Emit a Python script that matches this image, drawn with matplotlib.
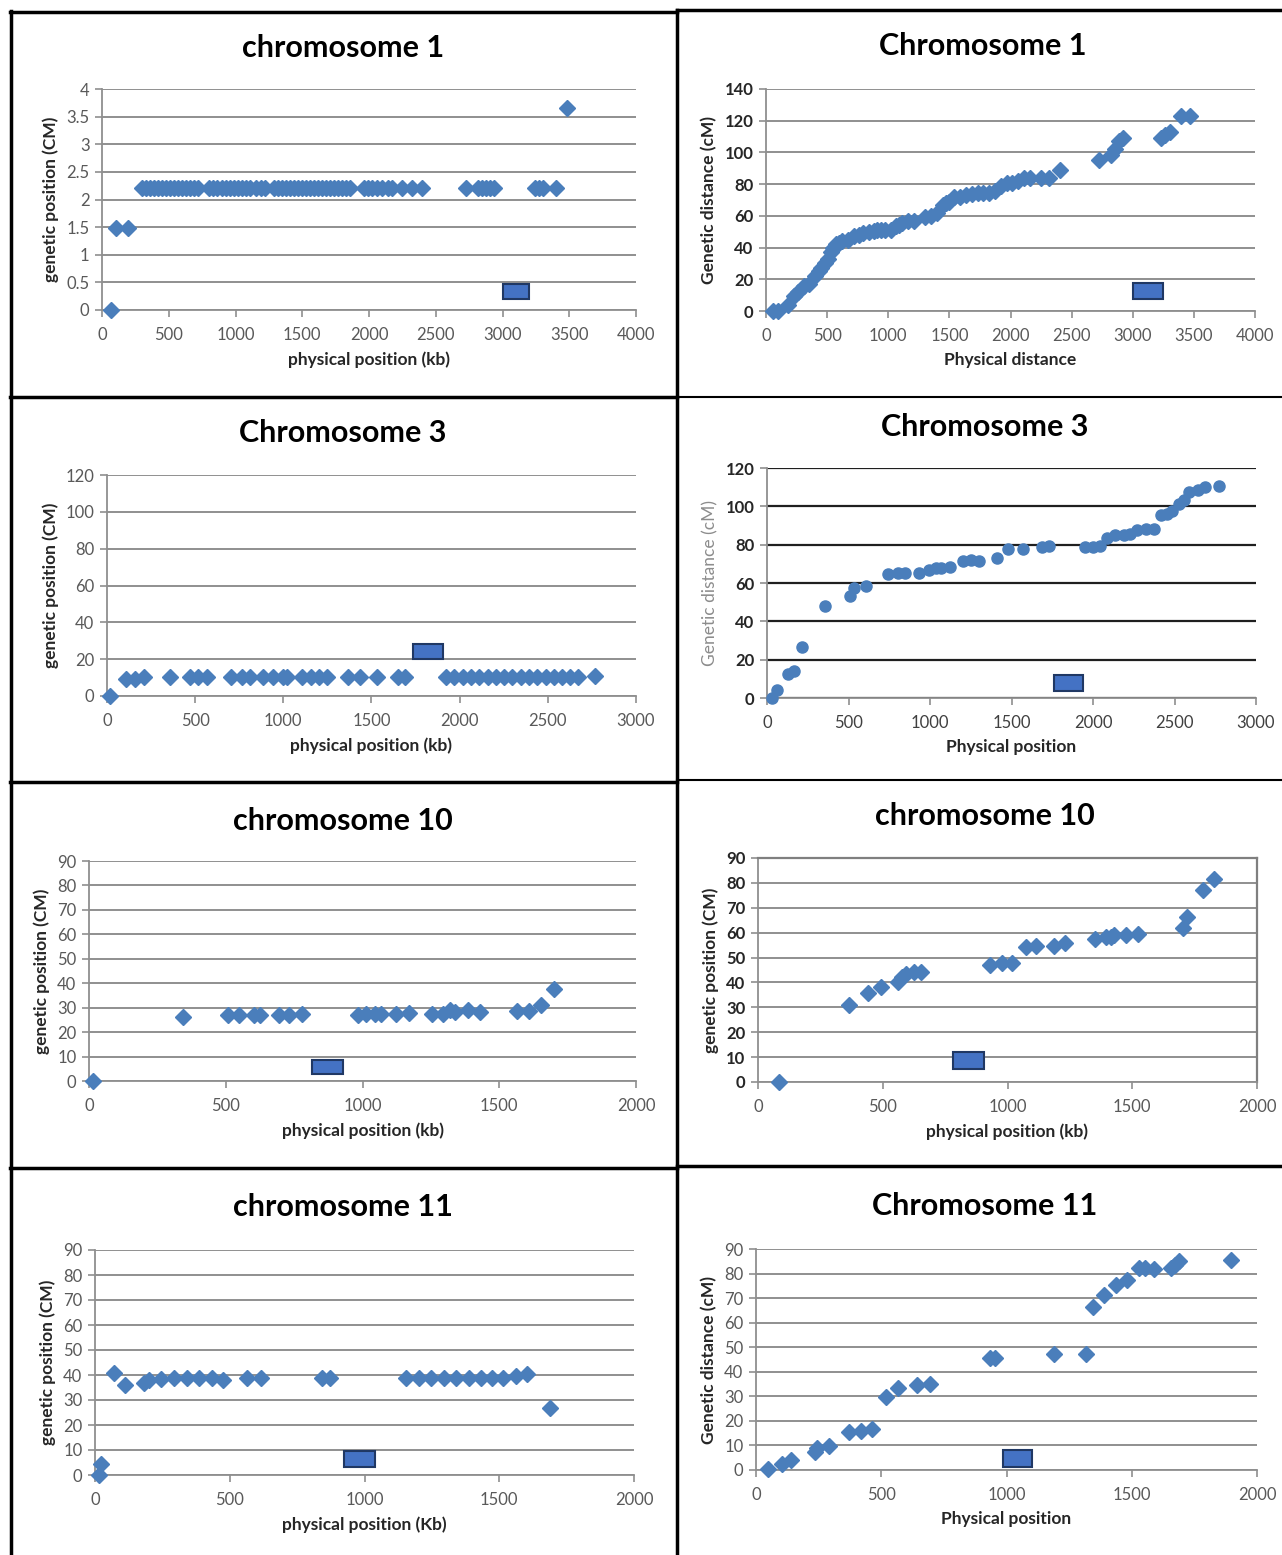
import matplotlib
matplotlib.use("Agg")
import matplotlib.pyplot as plt
from matplotlib.patches import Rectangle
from matplotlib.lines import Line2D
from matplotlib.ticker import FuncFormatter

plt.rcParams["font.family"] = ["Lato", "DejaVu Sans"]

W, H = 1282, 1555
BLUE = "#4A7EBB"

# ---- chromosome 1, left panel (genetic position vs physical position) ----
chr1a_x = [65, 107, 195,
           300, 330, 360, 390, 420, 450, 480, 510, 540, 570, 600, 630, 660, 690, 720,
           800, 830, 860, 900, 930, 960, 990, 1020, 1050, 1080, 1110, 1150, 1190, 1220,
           1290, 1320, 1350, 1380, 1410, 1440, 1470, 1500, 1530, 1560, 1590, 1620, 1650,
           1680, 1710, 1740, 1770, 1800, 1830, 1860,
           1960, 1990, 2020, 2060, 2100, 2140, 2170, 2250, 2320, 2400,
           2725, 2820, 2850, 2880, 2910, 2940, 3245, 3270, 3300, 3400, 3480]
chr1a_y = [0, 1.48, 1.48,
           2.2, 2.2, 2.2, 2.2, 2.2, 2.2, 2.2, 2.2, 2.2, 2.2, 2.2, 2.2, 2.2, 2.2, 2.2,
           2.2, 2.2, 2.2, 2.2, 2.2, 2.2, 2.2, 2.2, 2.2, 2.2, 2.2, 2.2, 2.2, 2.2,
           2.2, 2.2, 2.2, 2.2, 2.2, 2.2, 2.2, 2.2, 2.2, 2.2, 2.2, 2.2, 2.2,
           2.2, 2.2, 2.2, 2.2, 2.2, 2.2, 2.2,
           2.2, 2.2, 2.2, 2.2, 2.2, 2.2, 2.2, 2.2, 2.2, 2.2,
           2.2, 2.2, 2.2, 2.2, 2.2, 2.2, 2.2, 2.2, 2.2, 2.2, 3.65]

# ---- chromosome 1, right panel ----
chr1b_x = [54, 101, 180, 228, 260, 307, 354, 402, 430, 449, 481, 505, 528, 552, 576, 600,
           623, 671, 718, 760, 797, 845, 880, 908, 940, 971, 1019, 1066, 1090, 1114, 1161,
           1209, 1304, 1351, 1399, 1446, 1470, 1494, 1541, 1589, 1636, 1684, 1731, 1778,
           1826, 1873, 1921, 1968, 2016, 2063, 2111, 2158, 2253, 2316, 2405,
           2728, 2823, 2854, 2886, 2918, 3234, 3266, 3307, 3392, 3472]
chr1b_y = [0, 0, 4, 9.4, 12, 16, 17, 22, 25, 27, 30, 33, 37, 40, 42, 43,
           44, 45, 47, 48, 49, 50, 50.5, 51, 51, 51, 51, 53.5, 54.5, 55.6, 56.7,
           56.7, 59, 60, 62, 67, 68, 69, 72, 72, 73, 73.5, 74.5, 74.5,
           74.5, 75.5, 78.7, 80.9, 81, 82, 84, 84, 84, 84, 89,
           95, 98.5, 102, 107, 109, 109, 111, 112.6, 122.7, 122.7]

# ---- chromosome 3, left panel ----
chr3a_x = [17, 110, 160, 209, 356, 472, 516, 566, 706, 767, 811, 883, 944, 1000, 1018,
           1106, 1156, 1205, 1250, 1366, 1436, 1534, 1648, 1689,
           1923, 1970, 2017, 2064, 2111, 2158, 2205, 2252, 2299, 2346, 2393, 2440, 2487,
           2534, 2581, 2628, 2673, 2766]
chr3a_y = [0, 9.1, 9.1, 10.3, 10.3, 10.3, 10.3, 10.3, 10.3, 10.3, 10.3, 10.3, 10.3, 10.3, 10.3,
           10.3, 10.3, 10.3, 10.3, 10.3, 10.3, 10.3, 10.3, 10.3,
           10.3, 10.3, 10.3, 10.3, 10.3, 10.3, 10.3, 10.3, 10.3, 10.3, 10.3, 10.3, 10.3,
           10.3, 10.3, 10.3, 10.3, 10.7]

# ---- chromosome 3, right panel ----
chr3b_x = [28, 62, 128, 164, 214, 356, 508, 536, 608, 741, 805, 845, 930, 995, 1035, 1068,
           1120, 1203, 1253, 1298, 1410, 1481, 1571, 1690, 1733, 1951, 1999, 2046, 2086,
           2136, 2193, 2229, 2271, 2324, 2374, 2419, 2454, 2485, 2526, 2556, 2592, 2644,
           2687, 2775]
chr3b_y = [0, 4.3, 12.5, 13.9, 26.4, 48, 53.2, 57.6, 58.6, 64.9, 65.2, 65.2, 65.2, 66.8, 68, 68,
           68.3, 71.4, 72.1, 71.6, 73.2, 77.5, 77.5, 78.9, 79.2, 78.9, 78.9, 79.4, 83.6,
           85, 85.3, 85.8, 87.6, 88.4, 88, 95.4, 96.2, 97.5, 101.4, 103.2, 107.5, 108.7,
           110.1, 110.5]

# ---- chromosome 10, left panel ----
chr10a_x = [16, 344, 508, 547, 603, 627, 695, 733, 780, 983, 1012, 1047, 1067, 1122, 1170,
            1253, 1296, 1321, 1337, 1385, 1430, 1565, 1610, 1654, 1700]
chr10a_y = [0, 26.2, 26.9, 26.9, 26.9, 26.9, 26.9, 26.9, 27.3, 26.9, 27.3, 27.3, 27.3, 27.3, 27.9,
            27.6, 27.6, 29.2, 28.3, 29, 28.3, 28.5, 28.5, 31, 37.8]

# ---- chromosome 10, right panel ----
chr10b_x = [85, 364, 440, 491, 561, 577, 595, 626, 653, 930, 977, 1019, 1076, 1116, 1186,
            1229, 1349, 1394, 1414, 1425, 1476, 1522, 1705, 1721, 1783, 1829]
chr10b_y = [0, 30.8, 35.6, 38.3, 40.3, 42, 43.3, 44.2, 44.2, 47, 47.7, 48, 54.4, 54.8, 54.8,
            55.7, 57.4, 58.2, 58.4, 59.1, 59.1, 59.4, 62, 66.1, 77.2, 81.5]

# ---- chromosome 11, left panel ----
chr11a_x = [16, 21, 69, 113, 180, 201, 245, 293, 341, 386, 434, 476, 563, 616, 841, 872,
            1154, 1203, 1247, 1295, 1340, 1387, 1432, 1472, 1513, 1561, 1604, 1689]
chr11a_y = [0, 4.3, 41, 36, 36.7, 38, 38.3, 38.7, 38.7, 38.7, 38.7, 38, 38.7, 38.7, 38.7, 38.7,
            38.7, 38.7, 38.7, 38.7, 38.7, 38.7, 39, 39, 39, 39.7, 40.3, 26.7]

# ---- chromosome 11, right panel ----
chr11b_x = [46, 103, 139, 234, 242, 291, 370, 419, 463, 520, 566, 643, 694, 933, 956, 1190,
            1318, 1345, 1391, 1437, 1480, 1530, 1553, 1588, 1658, 1672, 1688, 1895]
chr11b_y = [0.5, 2.5, 4, 7.2, 8.8, 9.9, 15.4, 16, 16.7, 29.6, 33.3, 34.7, 35, 45.8, 45.8, 47.2,
            47.2, 66.2, 71.4, 75.5, 77.5, 82.2, 82.2, 82, 82.2, 83.6, 85.2, 85.6]

# centromere boxes: (x_start, x_end, y_start, y_end) in data units
centro_chr1a = (3000, 3200, 0.2, 0.47)
centro_chr1b = (3006, 3250, 7.3, 17.4)
centro_chr3a = (1738, 1903, 20, 28)
centro_chr3b = (1761, 1939, 3.8, 12.1)
centro_chr10a = (817, 928, 2.7, 8.7)
centro_chr10b = (783, 907, 5.4, 12.1)
centro_chr11a = (925, 1038, 3.3, 9.6)
centro_chr11b = (987, 1102, 1.4, 8.2)

panels = [
    dict(x=chr1a_x, y=chr1a_y, c=centro_chr1a, title="chromosome 1", xlim=4000, ylim=4, ystep=0.5,
         xlabel="physical position (kb)", ylabel="genetic position (CM)",
         box=(102, 636, 89, 310), title_xy=(343, 48)),
    dict(x=chr1b_x, y=chr1b_y, c=centro_chr1b, title="Chromosome 1", xlim=4000, ylim=140, ystep=20,
         xlabel="Physical distance", ylabel="Genetic distance (cM)",
         box=(766, 1255, 89, 311), title_xy=(983, 46), bold_yt=True),
    dict(x=chr3a_x, y=chr3a_y, c=centro_chr3a, title="Chromosome 3", xlim=3000, ylim=120, ystep=20,
         xlabel="physical position (kb)", ylabel="genetic position (CM)",
         box=(107, 636, 475, 696), title_xy=(343, 433)),
    dict(x=chr3b_x, y=chr3b_y, c=centro_chr3b, title="Chromosome 3", xlim=3000, ylim=120, ystep=20,
         xlabel="Physical position", ylabel="Genetic distance (cM)",
         box=(767, 1256, 468, 698), title_xy=(985, 427), circles=True, dark_grid=True,
         bold_yt=True, light_ylabel=True),
    dict(x=chr10a_x, y=chr10a_y, c=centro_chr10a, title="chromosome 10", xlim=2000, ylim=90, ystep=10,
         xlabel="physical position (kb)", ylabel="genetic position (CM)",
         box=(89, 636, 861, 1081), title_xy=(343, 821)),
    dict(x=chr10b_x, y=chr10b_y, c=centro_chr10b, title="chromosome 10", xlim=2000, ylim=90, ystep=10,
         xlabel="physical position (kb)", ylabel="genetic position (CM)",
         box=(758, 1257, 858, 1082), title_xy=(985, 816), frame=True, bold_yt=True),
    dict(x=chr11a_x, y=chr11a_y, c=centro_chr11a, title="chromosome 11", xlim=2000, ylim=90, ystep=10,
         xlabel="physical position (Kb)", ylabel="genetic position (CM)",
         box=(95, 634, 1250, 1475), title_xy=(343, 1207)),
    dict(x=chr11b_x, y=chr11b_y, c=centro_chr11b, title="Chromosome 11", xlim=2000, ylim=90, ystep=10,
         xlabel="Physical position", ylabel="Genetic distance (cM)",
         box=(756, 1257, 1249, 1470), title_xy=(985, 1206)),
]

fig = plt.figure(figsize=(W / 100, H / 100), dpi=100)

for p in panels:
    x0, x1, yt, yb = p["box"]
    ax = fig.add_axes([x0 / W, 1 - yb / H, (x1 - x0) / W, (yb - yt) / H])
    ax.set_xlim(0, p["xlim"])
    ax.set_ylim(0, p["ylim"])
    ax.set_xticks(range(0, p["xlim"] + 1, 500))
    n = int(round(p["ylim"] / p["ystep"]))
    ax.set_yticks([i * p["ystep"] for i in range(n + 1)])
    ax.yaxis.set_major_formatter(FuncFormatter(lambda v, pos: f"{v:g}"))

    gcol = "#1f1f1f" if p.get("dark_grid") else "#8f8f8f"
    ax.grid(axis="y", color=gcol, lw=1.6 if p.get("dark_grid") else 1.4)
    ax.set_axisbelow(True)

    for s in ["top", "right"]:
        ax.spines[s].set_visible(p.get("frame", False))
        ax.spines[s].set_color("#7f7f7f")
        ax.spines[s].set_linewidth(1.6)
    for s in ["left", "bottom"]:
        ax.spines[s].set_color("#8f8f8f")
        ax.spines[s].set_linewidth(1.3)
    ax.tick_params(axis="both", direction="out", length=5, width=1.2, color="#8f8f8f",
                   labelsize=12, labelcolor="#595959")
    ax.tick_params(axis="x", pad=7)
    ax.tick_params(axis="y", pad=4)

    if p.get("bold_yt"):
        for lab in ax.get_yticklabels():
            lab.set_fontweight("bold")
            lab.set_color("#262626")
    if p.get("circles"):
        for lab in ax.get_xticklabels():
            lab.set_color("#404040")

    if p.get("circles"):
        ax.plot(p["x"], p["y"], "o", ms=8, color=BLUE, mec=BLUE, ls="none", clip_on=False, zorder=3)
    else:
        ax.plot(p["x"], p["y"], "D", ms=8.5, color=BLUE, mec=BLUE, ls="none", clip_on=False, zorder=3)

    cx0, cx1, cy0, cy1 = p["c"]
    ax.add_patch(Rectangle((cx0, cy0), cx1 - cx0, cy1 - cy0, fc="#4472C4", ec="#203864",
                           lw=1.5, zorder=4, clip_on=False))

    ax.set_xlabel(p["xlabel"], fontsize=12.5, fontweight="bold", color="#262626", labelpad=6)
    if p.get("light_ylabel"):
        ax.set_ylabel(p["ylabel"], fontsize=12.5, color="#8c8c8c", labelpad=5)
    else:
        ax.set_ylabel(p["ylabel"], fontsize=12.5, fontweight="bold", color="#262626", labelpad=5)

    tx, ty = p["title_xy"]
    fig.text(tx / W, 1 - ty / H, p["title"], ha="center", va="center",
             fontsize=22, fontweight="bold", color="black")

# panel borders
def hline(y, xa, xb, lw=2.5):
    fig.add_artist(Line2D([xa / W, xb / W], [1 - y / H, 1 - y / H], color="black", lw=lw))

def vline(x, ya, yb, lw=2.5):
    fig.add_artist(Line2D([x / W, x / W], [1 - ya / H, 1 - yb / H], color="black", lw=lw))

hline(12, 10, 677)
hline(10, 677, W)
vline(11, 11, H)
vline(677, 10, H)
hline(397, 10, 677)
hline(397, 677, W, lw=1.5)
hline(782, 10, 677)
hline(780, 677, W, lw=1.5)
hline(1168, 10, 677)
hline(1166, 677, W, lw=2.5)

fig.savefig("out.png", dpi=100)
